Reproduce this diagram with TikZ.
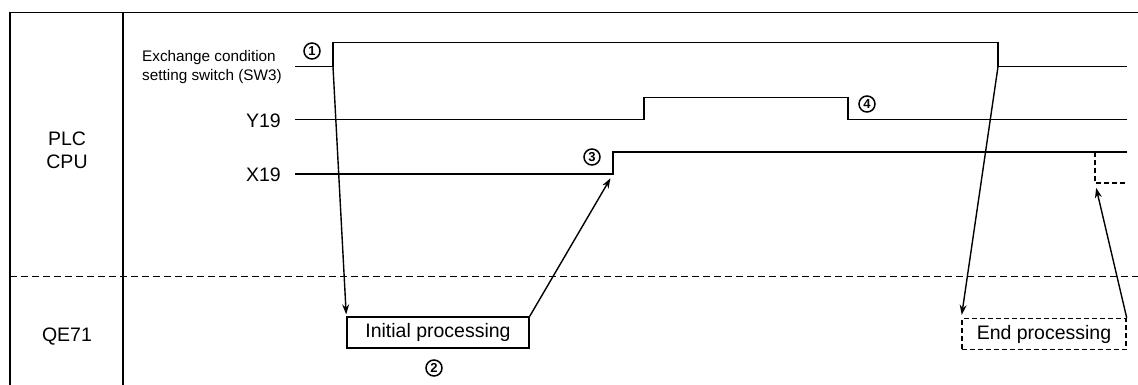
\documentclass[tikz,border=0pt]{standalone}
\usepackage{fontspec}
\setmainfont{Liberation Sans}
\usetikzlibrary{arrows.meta}
\tikzset{
  frame/.style={line width=1.4pt},
  sig/.style={line width=1.6pt},
  lbl/.style={font=\fontsize{19.5}{23}\selectfont, inner sep=0pt},
  small/.style={font=\fontsize{15.3}{19}\selectfont, inner sep=0pt, align=left},
  num/.style={circle, draw, line width=1.5pt, minimum size=16pt, inner sep=0pt, font=\fontsize{13}{13}\selectfont\bfseries},
  procbox/.style={draw, line width=1.4pt, minimum height=31pt, inner sep=0pt, font=\fontsize{19.5}{23}\selectfont},
  dashbox/.style={procbox, dash pattern=on 5pt off 3pt},
  arr/.style={line width=1.4pt, -{Stealth[length=10pt,width=7pt]}},
}
\begin{document}
\begin{tikzpicture}[x=1pt,y=-1pt]
\useasboundingbox (0,0) rectangle (1138,385);
% frame
\draw[frame] (10,385) -- (10,12.7) -- (1138,12.7);
\draw[frame] (123,12.7) -- (123,385);
\draw[frame, dash pattern=on 7pt off 4pt] (10,276.7) -- (1138,276.7);
% row labels
\node[lbl, align=center] (plc) at (67,150) {PLC\\CPU};
\node[lbl] (qe) at (67,337) {QE71};
\node[small, anchor=west] (sw) at (142,67.5) {Exchange condition\\setting switch (SW3)};
\node[lbl, anchor=east] (y19) at (281,121) {Y19};
\node[lbl, anchor=east] (x19) at (281,175) {X19};
% signals
\coordinate (swr) at (333,66.7);
\coordinate (swf) at (998,66.7);
\coordinate (xr) at (613,174);
\coordinate (xf) at (1095,183);
\draw[sig] (295,66.7) -- (swr) -- (333,42.7) -- (998,42.7) -- (swf) -- (1127,66.7);
\draw[sig] (295,119.5) -- (644,119.5) -- (644,97.7) -- (848,97.7) -- (848,119.5) -- (1127,119.5);
\draw[sig] (295,174) -- (xr) -- (613,152) -- (1127,152);
\draw[sig, dash pattern=on 5pt off 3pt] (1095,152) -- (xf) -- (1127,183);
% numbers
\node[num] (n1) at (312,51) {1};
\node[num] (n3) at (592,157) {3};
\node[num] (n4) at (867,104) {4};
% processing boxes
\node[procbox, minimum width=182pt] (ip) at (438,332.5) {Initial processing};
\node[num] (n2) at (434,368) {2};
\node[dashbox, minimum width=164pt] (ep) at (1044,334) {End processing};
% arrows
\draw[arr, shorten >=2pt] (swr) -- (ip.north west);
\draw[arr, shorten >=5pt] (ip.north east) -- (xr);
\draw[arr, shorten >=3pt] (swf) -- (ep.north west);
\draw[arr, shorten >=5pt] (ep.north east) -- (xf);
\end{tikzpicture}
\end{document}
